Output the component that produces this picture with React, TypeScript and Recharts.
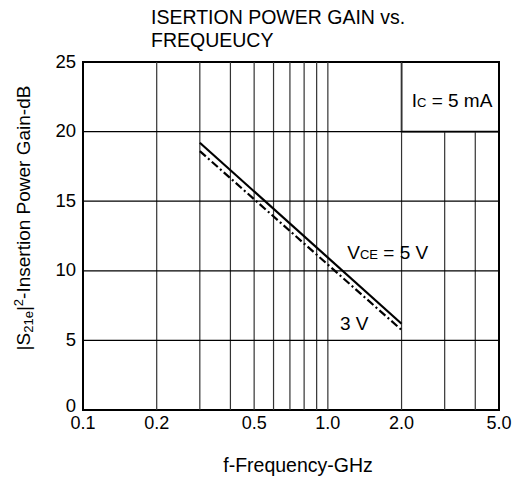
import React from 'react';
import { LineChart, Line, XAxis, YAxis, ReferenceLine, ReferenceArea, ReferenceDot } from 'recharts';

const xTicks = [0.1, 0.2, 0.5, 1.0, 2.0, 5.0];
const xTickLabels = ['0.1', '0.2', '0.5', '1.0', '2.0', '5.0'];
const yTicks = [0, 5, 10, 15, 20, 25];
const vGrid = [0.2, 0.3, 0.4, 0.5, 0.6, 0.7, 0.8, 0.9, 1.0, 2.0];
const vGridShort = [3.0, 4.0];
const hGrid = [5, 10, 15, 20];
const freq = [0.3, 2.0];
const gain5V = [19.2, 6.2];
const gain3V = [18.6, 5.75];

const data5 = freq.map((f, i) => ({ f, g: gain5V[i] }));
const data3 = freq.map((f, i) => ({ f, g: gain3V[i] }));

const FONT = '"Liberation Sans", Arial, Helvetica, sans-serif';

const XTick = (props: any) => {
  const { x, y, payload } = props;
  const idx = xTicks.indexOf(payload.value);
  return (
    <text x={x} y={y} dy={19} textAnchor="middle" fontSize={18} fontFamily={FONT} fill="#000">
      {idx >= 0 ? xTickLabels[idx] : payload.value}
    </text>
  );
};

const YTick = (props: any) => {
  const { x, y, payload } = props;
  const dy = payload.value === 0 ? 2 : 5.5;
  return (
    <text x={x - 7} y={y} dy={dy} textAnchor="end" fontSize={18.5} fontFamily={FONT} fill="#000">
      {payload.value}
    </text>
  );
};

export default function App() {
  return (
    <div style={{ position: 'absolute', left: 0, top: 0 }}>
      <LineChart width={517} height={484} margin={{ top: 62, right: 18, bottom: 44, left: 33 }}>
        <XAxis
          dataKey="f"
          type="number"
          scale="log"
          domain={[0.1, 5]}
          ticks={xTicks}
          allowDataOverflow
          tickLine={false}
          axisLine={false}
          tickSize={0}
          tickMargin={0}
          height={30}
          tick={<XTick />}
        />
        <YAxis
          type="number"
          domain={[0, 25]}
          ticks={yTicks}
          allowDataOverflow
          tickLine={false}
          axisLine={false}
          tickSize={0}
          tickMargin={0}
          width={50}
          tick={<YTick />}
        />
        {vGrid.map((v) => (
          <ReferenceLine key={'v' + v} x={v} stroke="#333" strokeWidth={1.2} />
        ))}
        {vGridShort.map((v) => (
          <ReferenceLine key={'vs' + v} segment={[{ x: v, y: 0 }, { x: v, y: 20 }]} stroke="#333" strokeWidth={1.2} />
        ))}
        {hGrid.map((h) => (
          <ReferenceLine key={'h' + h} y={h} stroke="#000" strokeWidth={1.2} />
        ))}
        <ReferenceArea x1={2} x2={5} y1={20} y2={25} fill="none" stroke="#000" strokeWidth={1.6} fillOpacity={0} />
        <ReferenceArea x1={0.1} x2={5} y1={0} y2={25} fill="none" stroke="#000" strokeWidth={2} fillOpacity={0} />
        <Line data={data5} dataKey="g" stroke="#000" strokeWidth={2.2} dot={false} isAnimationActive={false} />
        <Line data={data3} dataKey="g" stroke="#000" strokeWidth={2.2} strokeDasharray="8 3 2 3" dot={false} isAnimationActive={false} />
        <ReferenceDot
          x={2.2}
          y={22.27}
          r={0}
          shape={(p: any) => (
            <text x={p.cx} y={p.cy} dy={6.5} textAnchor="start" fontSize={19} fontFamily={FONT} fill="#000">
              <tspan>I</tspan>
              <tspan fontSize={13}>C</tspan>
              <tspan> = 5 mA</tspan>
            </text>
          )}
        />
        <ReferenceDot
          x={1.2}
          y={11.35}
          r={0}
          shape={(p: any) => (
            <text x={p.cx} y={p.cy} dy={6.5} textAnchor="start" fontSize={19} fontFamily={FONT} fill="#000">
              <tspan>V</tspan>
              <tspan fontSize={13}>CE</tspan>
              <tspan> = 5 V</tspan>
            </text>
          )}
        />
        <ReferenceDot
          x={1.12}
          y={6.18}
          r={0}
          shape={(p: any) => (
            <text x={p.cx} y={p.cy} dy={6.5} textAnchor="start" fontSize={19} fontFamily={FONT} fill="#000">
              3 V
            </text>
          )}
        />
        <text x={151} y={24} fontSize={19.5} fontFamily={FONT} fill="#000">ISERTION POWER GAIN vs.</text>
        <text x={151} y={47} fontSize={19.5} fontFamily={FONT} fill="#000">FREQUEUCY</text>
        <text x={298} y={472} textAnchor="middle" fontSize={19.5} fontFamily={FONT} fill="#000">f-Frequency-GHz</text>
        <text x={30} y={218} textAnchor="middle" transform="rotate(-90, 30, 218)" fontSize={19} fontFamily={FONT} fill="#000">
          <tspan>|S</tspan>
          <tspan fontSize={13} dy={3}>21e</tspan>
          <tspan dy={-3}>|</tspan>
          <tspan fontSize={13} dy={-7}>2</tspan>
          <tspan dy={7}>-Insertion Power Gain-dB</tspan>
        </text>
      </LineChart>
    </div>
  );
}
